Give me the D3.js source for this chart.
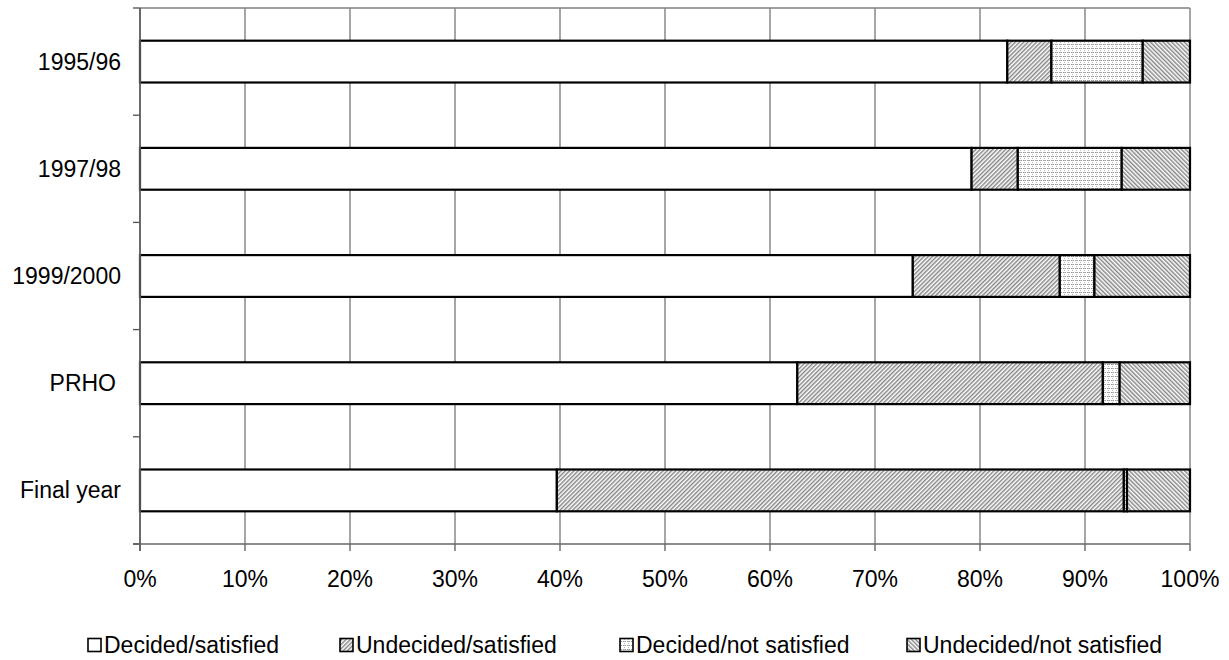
<!DOCTYPE html>
<html><head><meta charset="utf-8">
<script src="https://cdn.jsdelivr.net/npm/d3@7"></script>
<style>body{margin:0;background:#fff;} svg{display:block;font-family:"Liberation Sans",Arial,sans-serif;}</style>
</head><body>
<script>
const categories = ["1995/96", "1997/98", "1999/2000", "PRHO", "Final year"];
const seriesNames = ["Decided/satisfied", "Undecided/satisfied", "Decided/not satisfied", "Undecided/not satisfied"];
const decidedSatisfied = [82.6, 79.2, 73.6, 62.6, 39.7];
const undecidedSatisfied = [4.2, 4.4, 14.0, 29.1, 54.0];
const decidedNotSatisfied = [8.7, 9.9, 3.3, 1.6, 0.3];
const undecidedNotSatisfied = [4.5, 6.5, 9.1, 6.7, 6.0];
const xTicks = [0, 10, 20, 30, 40, 50, 60, 70, 80, 90, 100];

const W = 1229, H = 660;
const pLeft = 140, pRight = 1190, pTop = 8, pBottom = 544;
const FS = 23;
const svg = d3.select("body").append("svg").attr("width", W).attr("height", H);

const defs = svg.append("defs");
function hatch(id, angle) {
  const s = 3.0;
  const p = defs.append("pattern").attr("id", id).attr("patternUnits", "userSpaceOnUse")
    .attr("width", s).attr("height", s).attr("patternTransform", `rotate(${angle})`);
  p.append("rect").attr("width", s).attr("height", s).attr("fill", "#fff");
  p.append("line").attr("x1", 0.75).attr("y1", 0).attr("x2", 0.75).attr("y2", s)
    .attr("stroke", "#777").attr("stroke-width", 1.3);
}
hatch("fwd", 45);
hatch("bwd", -45);
const g = defs.append("pattern").attr("id", "grid").attr("patternUnits", "userSpaceOnUse")
  .attr("width", 4).attr("height", 4);
g.append("rect").attr("width", 4).attr("height", 4).attr("fill", "#fff");
g.append("line").attr("x1", 0).attr("y1", 0.5).attr("x2", 4).attr("y2", 0.5)
  .attr("stroke", "#999").attr("stroke-width", 1).attr("stroke-dasharray", "2,1");
g.append("line").attr("x1", 0.5).attr("y1", 0).attr("x2", 0.5).attr("y2", 4)
  .attr("stroke", "#bbb").attr("stroke-width", 1).attr("stroke-dasharray", "1,1");

const fills = ["#fff", "url(#fwd)", "url(#grid)", "url(#bwd)"];

const x = d3.scaleLinear().domain([0, 100]).range([pLeft, pRight]);
const y = d3.scaleBand().domain(categories).range([pTop, pBottom]).paddingInner(0.61).paddingOuter(0.305);

// grid
svg.append("g").selectAll("line").data(xTicks.slice(1)).join("line")
  .attr("x1", d => x(d)).attr("x2", d => x(d)).attr("y1", pTop).attr("y2", pBottom)
  .attr("stroke", "#808080").attr("stroke-width", 1.4);
svg.append("line").attr("x1", pLeft).attr("x2", pRight).attr("y1", pTop).attr("y2", pTop)
  .attr("stroke", "#808080").attr("stroke-width", 1.4);

// data
const rows = categories.map((c, i) => {
  const vals = [decidedSatisfied[i], undecidedSatisfied[i], decidedNotSatisfied[i], undecidedNotSatisfied[i]];
  const o = { cat: c };
  seriesNames.forEach((s, j) => o[s] = vals[j]);
  return o;
});
const stacked = d3.stack().keys(seriesNames)(rows);

svg.append("g").selectAll("g").data(stacked).join("g")
  .attr("fill", (d, i) => fills[i])
  .selectAll("rect").data(d => d).join("rect")
  .attr("x", d => x(d[0])).attr("width", d => x(d[1]) - x(d[0]))
  .attr("y", d => y(d.data.cat)).attr("height", y.bandwidth())
  .attr("stroke", "#000").attr("stroke-width", 2.2);

// axes
const yTickPos = d3.range(categories.length + 1).map(i => pTop + i * (pBottom - pTop) / categories.length);
const ax = svg.append("g");
ax.append("line").attr("x1", pLeft).attr("x2", pLeft).attr("y1", pTop).attr("y2", pBottom + 7)
  .attr("stroke", "#5a5a5a").attr("stroke-width", 1.8);
ax.append("line").attr("x1", pLeft - 7).attr("x2", pRight).attr("y1", pBottom).attr("y2", pBottom)
  .attr("stroke", "#666").attr("stroke-width", 1.6);
ax.selectAll(".yt").data(yTickPos).join("line")
  .attr("x1", pLeft - 7).attr("x2", pLeft).attr("y1", d => d).attr("y2", d => d)
  .attr("stroke", "#5a5a5a").attr("stroke-width", 1.4);
ax.selectAll(".xt").data(xTicks).join("line")
  .attr("x1", d => x(d)).attr("x2", d => x(d)).attr("y1", pBottom).attr("y2", pBottom + 7)
  .attr("stroke", "#666").attr("stroke-width", 1.4);

svg.append("g").selectAll("text").data(xTicks).join("text")
  .attr("x", d => x(d)).attr("y", 587).attr("text-anchor", "middle")
  .attr("font-size", FS).attr("fill", "#000").text(d => d + "%");

svg.append("g").selectAll("text").data(categories).join("text")
  .attr("x", d => d === "PRHO" ? 116 : 121).attr("y", d => y(d) + y.bandwidth() / 2 + 8)
  .attr("text-anchor", "end").attr("font-size", FS).attr("fill", "#000").text(d => d);

// legend
const legX = [88, 340, 620, 907];
const leg = svg.append("g").selectAll("g").data(seriesNames).join("g")
  .attr("transform", (d, i) => `translate(${legX[i]},653)`);
leg.append("rect").attr("x", 0).attr("y", -14.5).attr("width", 13).attr("height", 13)
  .attr("fill", (d, i) => fills[i]).attr("stroke", "#000").attr("stroke-width", 1.6);
leg.append("text").attr("x", 16).attr("y", 0).attr("font-size", FS).attr("fill", "#000").text(d => d);
</script>
</body></html>
